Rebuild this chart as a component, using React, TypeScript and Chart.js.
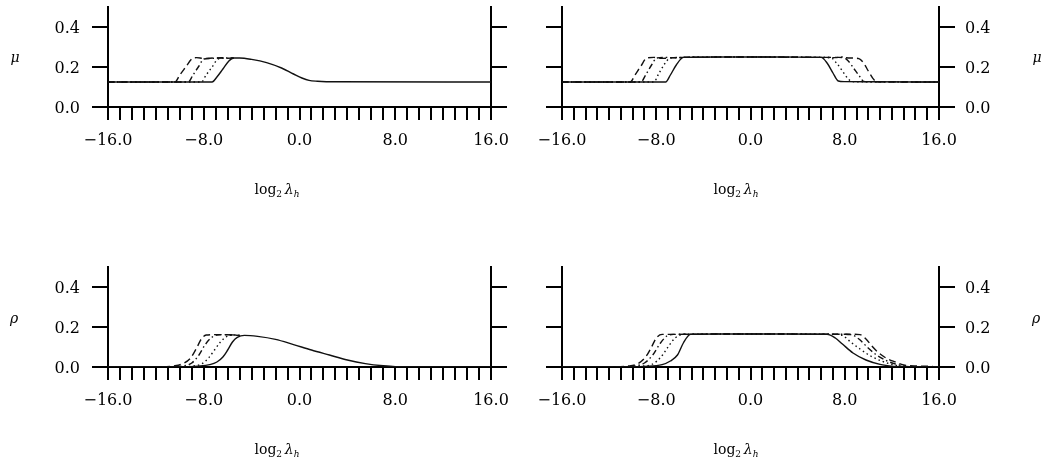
import React, { useEffect, useRef } from 'react';
import { Chart, registerables } from 'chart.js';

Chart.register(...registerables);

// ---------- axis values ----------
const X_MIN = -16;
const X_MAX = 16;
const X_STEP = 1;
const X_LABEL_EVERY = 8;
const Y_MIN = 0;
const Y_MAX = 0.5;
const Y_STEP = 0.1;
const Y_LAST_TICK = 0.4;

// ---------- panel A: mu, left ----------
const muA_solid_x = [-16, -7.3, -6.9, -6.4, -5.9, -5.5, -5, -4, -2.75, -1.5, -0.5, 0.2, 0.8, 1.5, 3, 16];
const muA_solid_y = [0.125, 0.125, 0.15, 0.19, 0.23, 0.245, 0.245, 0.238, 0.222, 0.195, 0.165, 0.145, 0.133, 0.129, 0.126, 0.125];
const muA_dot_x = [-16, -8.2, -7.8, -7.3, -6.9, -6.5, -5.8, -5.5];
const muA_dot_y = [0.125, 0.125, 0.16, 0.2, 0.235, 0.245, 0.243, 0.245];
const muA_dashdot_x = [-16, -9.3, -8.9, -8.4, -8.0, -7.3, -6.5, -5.5];
const muA_dashdot_y = [0.125, 0.125, 0.16, 0.205, 0.24, 0.243, 0.246, 0.245];
const muA_dash_x = [-16, -10.4, -10.0, -9.5, -9.0, -8.6, -8, -7, -6, -5.5];
const muA_dash_y = [0.125, 0.125, 0.16, 0.2, 0.24, 0.247, 0.243, 0.245, 0.244, 0.245];

// ---------- panel B: mu, right ----------
const muB_solid_x = [-16, -7.2, -6.8, -6.3, -5.7, -5, -3, 0, 3, 5, 6.0, 6.5, 7.0, 7.45, 8, 10, 16];
const muB_solid_y = [0.125, 0.125, 0.16, 0.21, 0.248, 0.249, 0.25, 0.25, 0.25, 0.249, 0.248, 0.22, 0.17, 0.13, 0.127, 0.126, 0.125];
const muB_dot_x = [-16, -8.2, -7.8, -7.3, -6.8, -6.2, -5.7, 0, 6.0, 6.8, 7.3, 7.8, 8.3, 8.6, 9.5, 16];
const muB_dot_y = [0.125, 0.125, 0.165, 0.215, 0.245, 0.247, 0.248, 0.25, 0.248, 0.247, 0.22, 0.18, 0.14, 0.127, 0.126, 0.125];
const muB_dashdot_x = [-16, -9.3, -8.9, -8.4, -7.95, -7.3, -6.5, -5.7, 0, 6, 7.2, 7.8, 8.3, 8.8, 9.3, 9.6, 10.5, 16];
const muB_dashdot_y = [0.125, 0.125, 0.16, 0.21, 0.245, 0.248, 0.246, 0.248, 0.25, 0.248, 0.247, 0.25, 0.23, 0.19, 0.15, 0.128, 0.126, 0.125];
const muB_dash_x = [-16, -10.2, -9.8, -9.3, -8.8, -8.2, -7.5, -6.5, -5.7, 0, 6, 7.5, 8.5, 9.2, 9.6, 10.0, 10.5, 11, 16];
const muB_dash_y = [0.125, 0.125, 0.16, 0.205, 0.245, 0.248, 0.243, 0.247, 0.248, 0.25, 0.248, 0.248, 0.245, 0.242, 0.22, 0.18, 0.135, 0.126, 0.125];

// ---------- panel C: rho, left ----------
const rhoC_solid_x = [-16, -9.5, -8.5, -7.5, -6.9, -6.4, -6.0, -5.6, -5.2, -4.6, -3.5, -2, -0.5, 1, 2.5, 4, 5.5, 7, 8, 16];
const rhoC_solid_y = [0, 0, 0.004, 0.012, 0.025, 0.05, 0.085, 0.125, 0.148, 0.158, 0.153, 0.138, 0.112, 0.085, 0.06, 0.035, 0.017, 0.006, 0.002, 0];
const rhoC_dot_x = [-16, -10, -9, -8.2, -7.6, -7.1, -6.6, -6.1, -5.6, -5.0];
const rhoC_dot_y = [0, 0, 0.004, 0.015, 0.045, 0.085, 0.125, 0.152, 0.16, 0.158];
const rhoC_dashdot_x = [-16, -10.8, -9.8, -9.0, -8.4, -7.9, -7.4, -6.9, -6.0, -5.0];
const rhoC_dashdot_y = [0, 0, 0.005, 0.02, 0.06, 0.11, 0.145, 0.16, 0.162, 0.158];
const rhoC_dash_x = [-16, -11.5, -10.5, -9.7, -9.1, -8.6, -8.2, -7.8, -7, -6, -5];
const rhoC_dash_y = [0, 0, 0.005, 0.018, 0.045, 0.095, 0.14, 0.16, 0.162, 0.161, 0.158];

// ---------- panel D: rho, right ----------
const rhoD_solid_x = [-16, -10.5, -9, -7.5, -6.8, -6.2, -5.7, -5.1, -3, 0, 3, 6.5, 7.2, 7.8, 8.7, 9.8, 11, 12.2, 13, 16];
const rhoD_solid_y = [0, 0, 0.003, 0.012, 0.03, 0.06, 0.12, 0.163, 0.165, 0.165, 0.165, 0.164, 0.145, 0.115, 0.07, 0.035, 0.013, 0.003, 0, 0];
const rhoD_dot_x = [-16, -10.5, -9.3, -8.3, -7.6, -7.0, -6.4, -5.8, -5.1, 0, 7, 7.8, 8.5, 9.3, 10.2, 11.2, 12.2, 13.2, 16];
const rhoD_dot_y = [0, 0, 0.004, 0.015, 0.05, 0.1, 0.145, 0.162, 0.164, 0.165, 0.164, 0.158, 0.125, 0.09, 0.055, 0.028, 0.01, 0.002, 0];
const rhoD_dashdot_x = [-16, -11, -10, -9.0, -8.3, -7.7, -7.1, -6.5, -5.1, 0, 7.5, 8.5, 9.2, 9.9, 10.7, 11.6, 12.6, 13.5, 16];
const rhoD_dashdot_y = [0, 0, 0.004, 0.02, 0.06, 0.115, 0.155, 0.163, 0.164, 0.165, 0.164, 0.162, 0.14, 0.1, 0.06, 0.03, 0.01, 0.002, 0];
const rhoD_dash_x = [-16, -11.5, -10.5, -9.6, -8.9, -8.4, -8.0, -7.5, -6.5, -5.1, 0, 8, 9.3, 9.8, 10.3, 10.8, 11.5, 12.3, 13, 14, 15.2, 16];
const rhoD_dash_y = [0, 0, 0.004, 0.015, 0.05, 0.1, 0.145, 0.163, 0.163, 0.164, 0.165, 0.164, 0.162, 0.14, 0.105, 0.075, 0.045, 0.025, 0.01, 0.005, 0.004, 0];

const Y_TITLE_MU = 'μ';
const Y_TITLE_RHO = 'ρ';

// ---------- styles ----------
const LINE_DASHES: number[][] = [[], [1.5, 3], [6, 3, 1.5, 3], [7, 4]];
const FONT_FAMILY = '"DejaVu Serif", serif';
const LABEL_SIZE = 16;
const TITLE_SIZE = 14;
const SUB_SIZE = 9;

type Series = { x: number[]; y: number[] };
type Panel = {
  box: { left: number; top: number; width: number; height: number };
  area: { left: number; right: number; top: number; bottom: number };
  series: Series[];
  yTitle: string;
  yTitlePos: { x: number; y: number };
  xTitlePos: { x: number; y: number };
  labelSide: 'left' | 'right';
};

const PANELS: Panel[] = [
  {
    box: { left: 0, top: 0, width: 524, height: 231 },
    area: { left: 108, right: 491, top: 7, bottom: 107 },
    series: [
      { x: muA_solid_x, y: muA_solid_y },
      { x: muA_dot_x, y: muA_dot_y },
      { x: muA_dashdot_x, y: muA_dashdot_y },
      { x: muA_dash_x, y: muA_dash_y },
    ],
    yTitle: Y_TITLE_MU,
    yTitlePos: { x: 15, y: 62 },
    xTitlePos: { x: 277, y: 194 },
    labelSide: 'left',
  },
  {
    box: { left: 524, top: 0, width: 525, height: 231 },
    area: { left: 38, right: 415, top: 7, bottom: 107 },
    series: [
      { x: muB_solid_x, y: muB_solid_y },
      { x: muB_dot_x, y: muB_dot_y },
      { x: muB_dashdot_x, y: muB_dashdot_y },
      { x: muB_dash_x, y: muB_dash_y },
    ],
    yTitle: Y_TITLE_MU,
    yTitlePos: { x: 513, y: 62 },
    xTitlePos: { x: 212, y: 194 },
    labelSide: 'right',
  },
  {
    box: { left: 0, top: 231, width: 524, height: 232 },
    area: { left: 108, right: 491, top: 36, bottom: 136 },
    series: [
      { x: rhoC_solid_x, y: rhoC_solid_y },
      { x: rhoC_dot_x, y: rhoC_dot_y },
      { x: rhoC_dashdot_x, y: rhoC_dashdot_y },
      { x: rhoC_dash_x, y: rhoC_dash_y },
    ],
    yTitle: Y_TITLE_RHO,
    yTitlePos: { x: 14, y: 92 },
    xTitlePos: { x: 277, y: 223 },
    labelSide: 'left',
  },
  {
    box: { left: 524, top: 231, width: 525, height: 232 },
    area: { left: 38, right: 415, top: 36, bottom: 136 },
    series: [
      { x: rhoD_solid_x, y: rhoD_solid_y },
      { x: rhoD_dot_x, y: rhoD_dot_y },
      { x: rhoD_dashdot_x, y: rhoD_dashdot_y },
      { x: rhoD_dash_x, y: rhoD_dash_y },
    ],
    yTitle: Y_TITLE_RHO,
    yTitlePos: { x: 512, y: 92 },
    xTitlePos: { x: 212, y: 223 },
    labelSide: 'right',
  },
];

function fmtX(v: number): string {
  const s = Math.abs(v).toFixed(1);
  return v < 0 ? '\u2212' + s : s;
}

function drawXTitle(ctx: CanvasRenderingContext2D, cx: number, baseY: number) {
  const parts = [
    { t: 'log', f: `${TITLE_SIZE}px ${FONT_FAMILY}`, dy: 0 },
    { t: '2', f: `${SUB_SIZE}px ${FONT_FAMILY}`, dy: 3 },
    { t: '\u2009', f: `${TITLE_SIZE}px ${FONT_FAMILY}`, dy: 0 },
    { t: 'λ', f: `italic ${TITLE_SIZE}px ${FONT_FAMILY}`, dy: 0 },
    { t: 'h', f: `italic ${SUB_SIZE}px ${FONT_FAMILY}`, dy: 3 },
  ];
  let total = 0;
  const widths = parts.map((p) => {
    ctx.font = p.f;
    const w = ctx.measureText(p.t).width;
    total += w;
    return w;
  });
  let x = cx - total / 2;
  ctx.textAlign = 'left';
  ctx.textBaseline = 'alphabetic';
  ctx.fillStyle = '#000';
  parts.forEach((p, i) => {
    ctx.font = p.f;
    ctx.fillText(p.t, x, baseY + p.dy);
    x += widths[i];
  });
}

function PanelChart({ panel }: { panel: Panel }) {
  const ref = useRef<HTMLCanvasElement | null>(null);
  useEffect(() => {
    if (!ref.current) return;
    const { box, area } = panel;
    const font = { family: FONT_FAMILY, size: LABEL_SIZE };
    const hideTop = (c: any) => (c.tick && c.tick.value > Y_LAST_TICK + 1e-6 ? 'rgba(0,0,0,0)' : '#000');
    const yLabel = (side: 'left' | 'right') => (v: any) => {
      if (panel.labelSide !== side) return '';
      const n = Math.round(Number(v) * 10);
      if (n % 2 !== 0 || n > Math.round(Y_LAST_TICK * 10)) return '';
      return (n / 10).toFixed(1);
    };
    const gridCommon = {
      display: true,
      drawOnChartArea: false,
      drawTicks: true,
      color: '#000',
      lineWidth: 2,
      tickWidth: 2,
    };
    const titlePlugin = {
      id: 'panelTitles',
      afterDraw(chart: any) {
        const ctx = chart.ctx as CanvasRenderingContext2D;
        ctx.save();
        ctx.fillStyle = '#000';
        ctx.font = `italic ${TITLE_SIZE}px ${FONT_FAMILY}`;
        ctx.textAlign = 'center';
        ctx.textBaseline = 'alphabetic';
        ctx.fillText(panel.yTitle, panel.yTitlePos.x, panel.yTitlePos.y);
        drawXTitle(ctx, panel.xTitlePos.x, panel.xTitlePos.y);
        ctx.restore();
      },
    };
    const fixV = (s: any, w: number) => {
      s.width = w;
      s.paddingTop = 0;
      s.paddingBottom = 0;
    };
    const chart = new Chart(ref.current, {
      type: 'line',
      data: {
        datasets: panel.series.map((s, i) => ({
          data: s.x.map((xv, j) => ({ x: xv, y: s.y[j] })),
          borderColor: '#111',
          borderWidth: 1.4,
          borderDash: LINE_DASHES[i],
          pointRadius: 0,
          fill: false,
          cubicInterpolationMode: 'monotone',
          xAxisID: 'x',
          yAxisID: 'yL',
        })),
      },
      options: {
        animation: false,
        responsive: false,
        maintainAspectRatio: false,
        devicePixelRatio: 1,
        events: [],
        layout: { padding: { top: area.top, left: 0, right: 0, bottom: 0 } },
        plugins: { legend: { display: false }, tooltip: { enabled: false }, title: { display: false } },
        scales: {
          x: {
            type: 'linear',
            position: 'bottom',
            min: X_MIN,
            max: X_MAX,
            afterFit: (s: any) => {
              s.height = box.height - area.bottom;
              s.paddingLeft = 0;
              s.paddingRight = 0;
            },
            ticks: {
              stepSize: X_STEP,
              autoSkip: false,
              maxRotation: 0,
              minRotation: 0,
              padding: 11,
              color: '#000',
              font,
              callback: (v: any) => {
                const n = Number(v);
                return Math.abs(n % X_LABEL_EVERY) < 1e-9 ? fmtX(n) : '';
              },
            },
            grid: { ...gridCommon, tickLength: 13 },
            border: { display: true, width: 2, color: '#000' },
          },
          yL: {
            type: 'linear',
            position: 'left',
            min: Y_MIN,
            max: Y_MAX,
            afterFit: (s: any) => fixV(s, area.left),
            ticks: { stepSize: Y_STEP, padding: 12, labelOffset: 2, color: '#000', font, callback: yLabel('left') },
            grid: { ...gridCommon, tickLength: 16, tickColor: hideTop },
            border: { display: true, width: 2, color: '#000' },
          },
          yR: {
            type: 'linear',
            position: 'right',
            min: Y_MIN,
            max: Y_MAX,
            afterFit: (s: any) => fixV(s, box.width - area.right),
            ticks: { stepSize: Y_STEP, padding: 10, labelOffset: 2, color: '#000', font, callback: yLabel('right') },
            grid: { ...gridCommon, tickLength: 16, tickColor: hideTop },
            border: { display: true, width: 2, color: '#000' },
          },
        },
      } as any,
      plugins: [titlePlugin],
    } as any);
    return () => chart.destroy();
  }, [panel]);

  return (
    <canvas
      ref={ref}
      width={panel.box.width}
      height={panel.box.height}
      style={{
        position: 'absolute',
        left: panel.box.left,
        top: panel.box.top,
        width: panel.box.width,
        height: panel.box.height,
      }}
    />
  );
}

export default function App() {
  return (
    <div style={{ position: 'absolute', left: 0, top: 0, width: 1049, height: 463, background: '#fff' }}>
      {PANELS.map((p, i) => (
        <PanelChart key={i} panel={p} />
      ))}
    </div>
  );
}
